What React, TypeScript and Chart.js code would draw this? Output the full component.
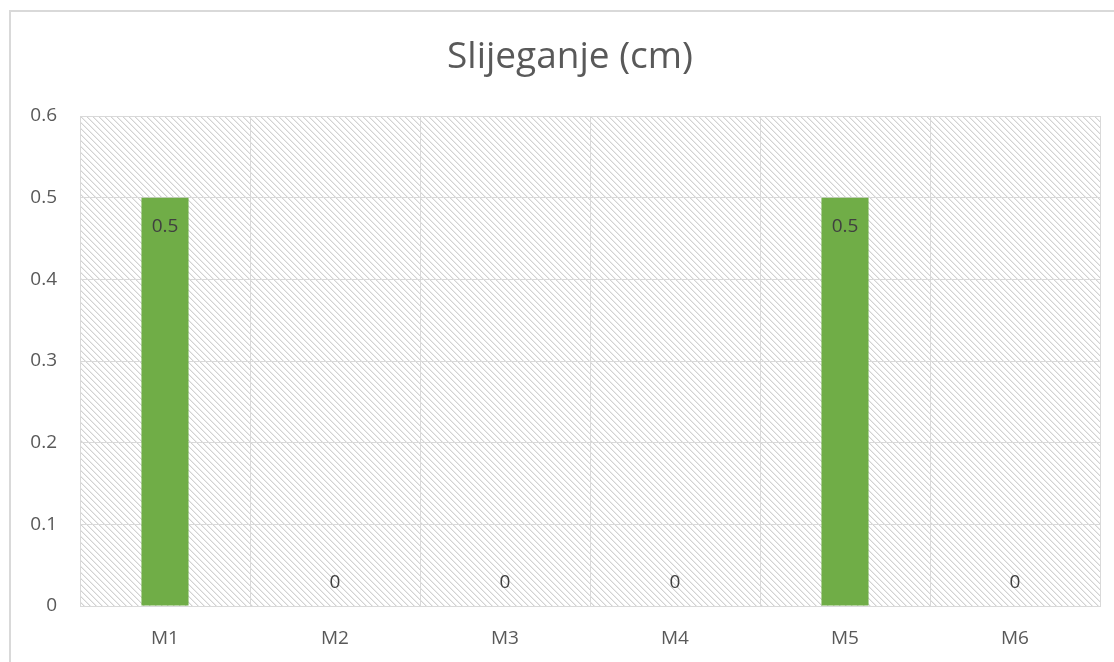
import React, { useEffect, useRef } from "react";
import { Chart, registerables } from "chart.js";

Chart.register(...registerables);

const categories = ["M1", "M2", "M3", "M4", "M5", "M6"];
const values = [0.5, 0, 0, 0, 0.5, 0];
const titleText = "Slijeganje (cm)";
const yTickValues = [0, 0.1, 0.2, 0.3, 0.4, 0.5, 0.6];

const FONT = "'Open Sans', 'Noto Sans', sans-serif";

function makeHatch(): CanvasPattern | string {
  const n = 6;
  const c = document.createElement("canvas");
  c.width = n;
  c.height = n;
  const g = c.getContext("2d");
  if (!g) return "#fff";
  g.fillStyle = "#ffffff";
  g.fillRect(0, 0, n, n);
  for (let y = 0; y < n; y++) {
    for (let x = 0; x < n; x++) {
      const d = (((x - y) % n) + n) % n;
      if (d === 0) {
        g.fillStyle = "#d2d2d2";
        g.fillRect(x, y, 1, 1);
      } else if (d === 1) {
        g.fillStyle = "#ececec";
        g.fillRect(x, y, 1, 1);
      }
    }
  }
  const p = g.createPattern(c, "repeat");
  return p || "#fff";
}

const hatchPlugin = {
  id: "hatchBg",
  beforeDraw(chart: any) {
    const { ctx, chartArea } = chart;
    if (!chartArea) return;
    ctx.save();
    ctx.fillStyle = makeHatch();
    ctx.fillRect(chartArea.left, chartArea.top, chartArea.right - chartArea.left, chartArea.bottom - chartArea.top);
    ctx.restore();
  },
};

const titlePlugin = {
  id: "customTitle",
  afterDraw(chart: any) {
    const { ctx } = chart;
    ctx.save();
    ctx.font = `37px ${FONT}`;
    ctx.fillStyle = "#595959";
    ctx.textAlign = "center";
    ctx.textBaseline = "alphabetic";
    ctx.fillText(titleText, 570, 68);
    ctx.restore();
  },
};

const labelPlugin = {
  id: "valueLabels",
  afterDatasetsDraw(chart: any) {
    const { ctx } = chart;
    const meta = chart.getDatasetMeta(0);
    ctx.save();
    ctx.font = `19px ${FONT}`;
    ctx.fillStyle = "#404040";
    ctx.textAlign = "center";
    ctx.textBaseline = "middle";
    meta.data.forEach((bar: any, i: number) => {
      const v = values[i];
      const text = String(v);
      const y = v > 0 ? bar.y + 29 : bar.y - 23;
      ctx.fillText(text, bar.x, y);
    });
    ctx.restore();
  },
};

export default function App() {
  const ref = useRef<HTMLCanvasElement | null>(null);
  useEffect(() => {
    if (!ref.current) return;
    const chart = new Chart(ref.current, {
      type: "bar",
      data: {
        labels: categories,
        datasets: [
          {
            data: values,
            backgroundColor: "#70ad47",
            borderWidth: 0,
            barPercentage: 0.277,
            categoryPercentage: 1,
          },
        ],
      },
      options: {
        responsive: false,
        animation: false,
        layout: { padding: { left: 0, right: 14, top: 116, bottom: 0 } },
        plugins: {
          legend: { display: false },
          tooltip: { enabled: false },
          title: { display: false },
        },
        scales: {
          x: {
            grid: { color: "#d9d9d9", lineWidth: 1, drawTicks: false, offset: true },
            border: { color: "#d9d9d9", width: 1 },
            ticks: { color: "#595959", font: { family: FONT, size: 19 }, padding: 21 },
            afterFit(scale: any) {
              scale.height = 56;
            },
          },
          y: {
            min: 0,
            max: 0.6,
            afterBuildTicks(scale: any) {
              scale.ticks = yTickValues.map((v) => ({ value: v }));
            },
            grid: { color: "#d9d9d9", lineWidth: 1, drawTicks: false },
            border: { color: "#d9d9d9", width: 1 },
            ticks: {
              color: "#595959",
              font: { family: FONT, size: 19 },
              padding: 23,
              callback: (v: any) => String(Math.round(Number(v) * 10) / 10),
            },
            afterFit(scale: any) {
              scale.width = 80;
            },
          },
        },
      },
      plugins: [hatchPlugin, labelPlugin, titlePlugin],
    });
    return () => chart.destroy();
  }, []);

  return (
    <div
      style={{
        position: "fixed",
        left: 0,
        top: 0,
        width: 1114,
        height: 662,
        overflow: "hidden",
        background: "#ffffff",
      }}
    >
      <div
        style={{
          position: "absolute",
          left: 9,
          top: 10,
          width: 1200,
          height: 800,
          border: "2px solid #d9d9d9",
          boxSizing: "border-box",
        }}
      />
      <canvas ref={ref} width={1114} height={662} style={{ position: "absolute", left: 0, top: 0 }} />
    </div>
  );
}
